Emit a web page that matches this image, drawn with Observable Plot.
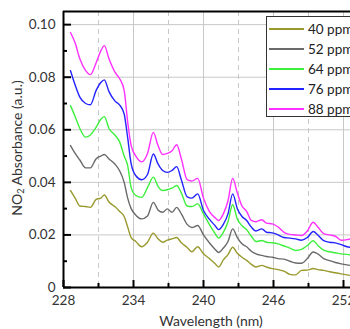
<!DOCTYPE html>
<html><head><meta charset="utf-8">
<script src="https://cdn.jsdelivr.net/npm/d3@7"></script>
<script src="https://cdn.jsdelivr.net/npm/@observablehq/plot@0.6"></script>
<style>
body{margin:0;background:#fff;}
#wrap{position:relative;width:350px;height:329px;overflow:hidden;font-family:Lato,"Open Sans",sans-serif;}
#ylab{position:absolute;left:17px;top:148px;transform:translate(-50%,-50%) rotate(-90deg);white-space:nowrap;font-size:14px;color:#333;}
#ylab sub{font-size:9px;vertical-align:-2px;}
#legend{position:absolute;left:266px;top:16px;width:110px;height:101px;border:1px solid #333;background:#fff;box-sizing:border-box;}
.li{position:absolute;left:2px;height:20px;display:flex;align-items:center;font-size:13.5px;color:#222;white-space:nowrap;}
.li span.sw{display:inline-block;width:35px;height:2px;margin-right:4px;}
</style></head>
<body><div id="wrap"></div>
<script>
const wavelength = [228.6,229.0,229.4,229.9,230.3,230.8,231.2,231.5,231.9,232.4,232.8,233.2,233.5,233.8,234.2,234.7,235.2,235.7,236.1,236.5,236.9,237.3,237.7,238.1,238.6,239.0,239.5,240.0,240.5,241.0,241.3,241.7,242.1,242.5,242.9,243.3,243.7,244.1,244.5,245.0,245.4,245.9,246.4,246.9,247.4,247.9,248.4,248.9,249.4,249.8,250.3,250.8,251.3,251.8,252.3,252.6];
const abs88 = [0.097,0.093,0.087,0.0825,0.081,0.0855,0.090,0.092,0.087,0.082,0.0795,0.075,0.063,0.054,0.050,0.0478,0.051,0.059,0.054,0.0506,0.051,0.052,0.0543,0.049,0.041,0.0405,0.0415,0.034,0.029,0.0265,0.0255,0.028,0.033,0.0415,0.036,0.031,0.029,0.0255,0.025,0.0258,0.0245,0.0242,0.023,0.021,0.0202,0.020,0.0198,0.0215,0.0248,0.023,0.0205,0.020,0.0195,0.018,0.0182,0.0185];
const abs76 = [0.0825,0.077,0.0724,0.070,0.0695,0.075,0.078,0.079,0.0745,0.071,0.0695,0.066,0.057,0.047,0.0425,0.041,0.043,0.0508,0.047,0.0445,0.0438,0.0445,0.046,0.041,0.0345,0.034,0.0356,0.0293,0.026,0.0235,0.022,0.024,0.028,0.0356,0.030,0.027,0.0255,0.023,0.0215,0.0223,0.021,0.0208,0.020,0.019,0.0188,0.0185,0.018,0.019,0.0213,0.020,0.0178,0.0172,0.017,0.0163,0.0155,0.0153];
const abs64 = [0.0692,0.065,0.0605,0.0572,0.058,0.061,0.064,0.065,0.0605,0.058,0.0555,0.050,0.0464,0.038,0.035,0.0343,0.038,0.042,0.0385,0.0369,0.0372,0.0378,0.0388,0.036,0.031,0.0308,0.0318,0.028,0.024,0.0205,0.0188,0.021,0.025,0.0315,0.026,0.0235,0.022,0.0195,0.0175,0.0179,0.0172,0.017,0.0166,0.0158,0.015,0.0141,0.0145,0.016,0.0178,0.016,0.0142,0.0136,0.0132,0.0128,0.0126,0.0124];
const abs52 = [0.054,0.051,0.0485,0.0455,0.0455,0.049,0.050,0.0506,0.0489,0.047,0.0445,0.040,0.034,0.030,0.0275,0.0261,0.0272,0.0324,0.0295,0.0286,0.0299,0.0286,0.0305,0.028,0.024,0.0228,0.0236,0.020,0.017,0.0145,0.0133,0.015,0.0175,0.0223,0.019,0.0166,0.0155,0.0138,0.0128,0.0122,0.0118,0.0115,0.011,0.0108,0.010,0.0093,0.0092,0.011,0.0135,0.0128,0.011,0.0102,0.0095,0.009,0.0086,0.0084];
const abs40 = [0.0369,0.034,0.031,0.0308,0.0305,0.0335,0.034,0.0352,0.0325,0.0308,0.029,0.027,0.023,0.019,0.0175,0.0155,0.0172,0.0207,0.0185,0.0172,0.018,0.0185,0.019,0.017,0.0152,0.0136,0.0155,0.0128,0.011,0.009,0.0078,0.0105,0.0125,0.0153,0.013,0.0115,0.0103,0.0088,0.0078,0.0084,0.0078,0.0072,0.0068,0.0062,0.005,0.0048,0.0065,0.0066,0.0072,0.0068,0.0065,0.006,0.0056,0.0052,0.0048,0.0046];
const seriesNames = ["40 ppm","52 ppm","64 ppm","76 ppm","88 ppm"];
const seriesColors = ["#99992e","#6a6a6a","#3cf03c","#2323ff","#ff30ff"];
const xMajor = [228,234,240,246,252];
const xMinor = [231,237,243,249];
const yMajor = [0,0.02,0.04,0.06,0.08,0.10];
const yMinor = [0.01,0.03,0.05,0.07,0.09];
const xDomain = [228,252.6];
const yDomain = [0,0.105];

const allAbs = [abs40,abs52,abs64,abs76,abs88];
const rows = [];
allAbs.forEach((arr,si)=>arr.forEach((v,i)=>rows.push({wl:wavelength[i],a:v,s:seriesNames[si]})));

const plot = Plot.plot({
  width:350, height:329,
  marginLeft:63, marginRight:0, marginTop:11, marginBottom:42,
  style:{fontFamily:"Lato, 'Open Sans', sans-serif", fontSize:"13px", background:"transparent", overflow:"visible"},
  x:{domain:xDomain},
  y:{domain:yDomain},
  color:{domain:seriesNames, range:seriesColors},
  marks:[
    Plot.gridX(xMajor.filter(d=>d>228),{stroke:"#c8c8c8",strokeOpacity:1,strokeWidth:1}),
    Plot.gridX(xMinor,{stroke:"#c8c8c8",strokeOpacity:1,strokeWidth:1,strokeDasharray:"5,4"}),
    Plot.gridY(yMajor.filter(d=>d>0),{stroke:"#c8c8c8",strokeOpacity:1,strokeWidth:1}),
    Plot.line(rows,{x:"wl",y:"a",z:"s",stroke:"s",strokeWidth:1.4,curve:"monotone-x"}),
    Plot.ruleX([xDomain[0]],{stroke:"#000",strokeWidth:2}),
    Plot.ruleY([yDomain[0]],{stroke:"#000",strokeWidth:2}),
    Plot.ruleY([yDomain[1]],{stroke:"#000",strokeWidth:2}),
    Plot.axisX(xMajor,{anchor:"bottom",tickSize:-7,strokeWidth:2,stroke:"#000",text:null,label:null}),
    Plot.axisX(xMinor,{anchor:"bottom",tickSize:-4,strokeWidth:2,stroke:"#000",text:null,label:null}),
    Plot.axisX(xMajor,{anchor:"bottom",tickSize:0,tickPadding:8,fill:"#333",fontSize:13.5,label:null,tickFormat:d=>String(d)}),
    Plot.axisY(yMajor,{anchor:"left",tickSize:-8,strokeWidth:2,stroke:"#000",text:null,label:null}),
    Plot.axisY(yMinor,{anchor:"left",tickSize:-4,strokeWidth:2,stroke:"#000",text:null,label:null}),
    Plot.axisY(yMajor,{anchor:"left",tickSize:0,tickPadding:8,fill:"#333",fontSize:13.5,label:null,tickFormat:d=>d===0?"0":d.toFixed(2)}),
    Plot.text(["Wavelength (nm)"],{frameAnchor:"bottom",dy:38,dx:4,fontSize:14,fill:"#333"})
  ]
});
const wrap = document.getElementById("wrap");
wrap.appendChild(plot);
plot.style.position="absolute"; plot.style.left="0"; plot.style.top="0";

const yl = document.createElement("div");
yl.id="ylab";
yl.innerHTML = "NO<sub>2</sub> Absorbance (a.u.)";
wrap.appendChild(yl);

const lg = document.createElement("div");
lg.id="legend";
seriesNames.forEach((n,i)=>{
  const d=document.createElement("div");
  d.className="li";
  d.style.top=(2+i*20)+"px";
  d.innerHTML=`<span class="sw" style="background:${seriesColors[i]}"></span>${n}`;
  lg.appendChild(d);
});
wrap.appendChild(lg);
</script></body></html>
